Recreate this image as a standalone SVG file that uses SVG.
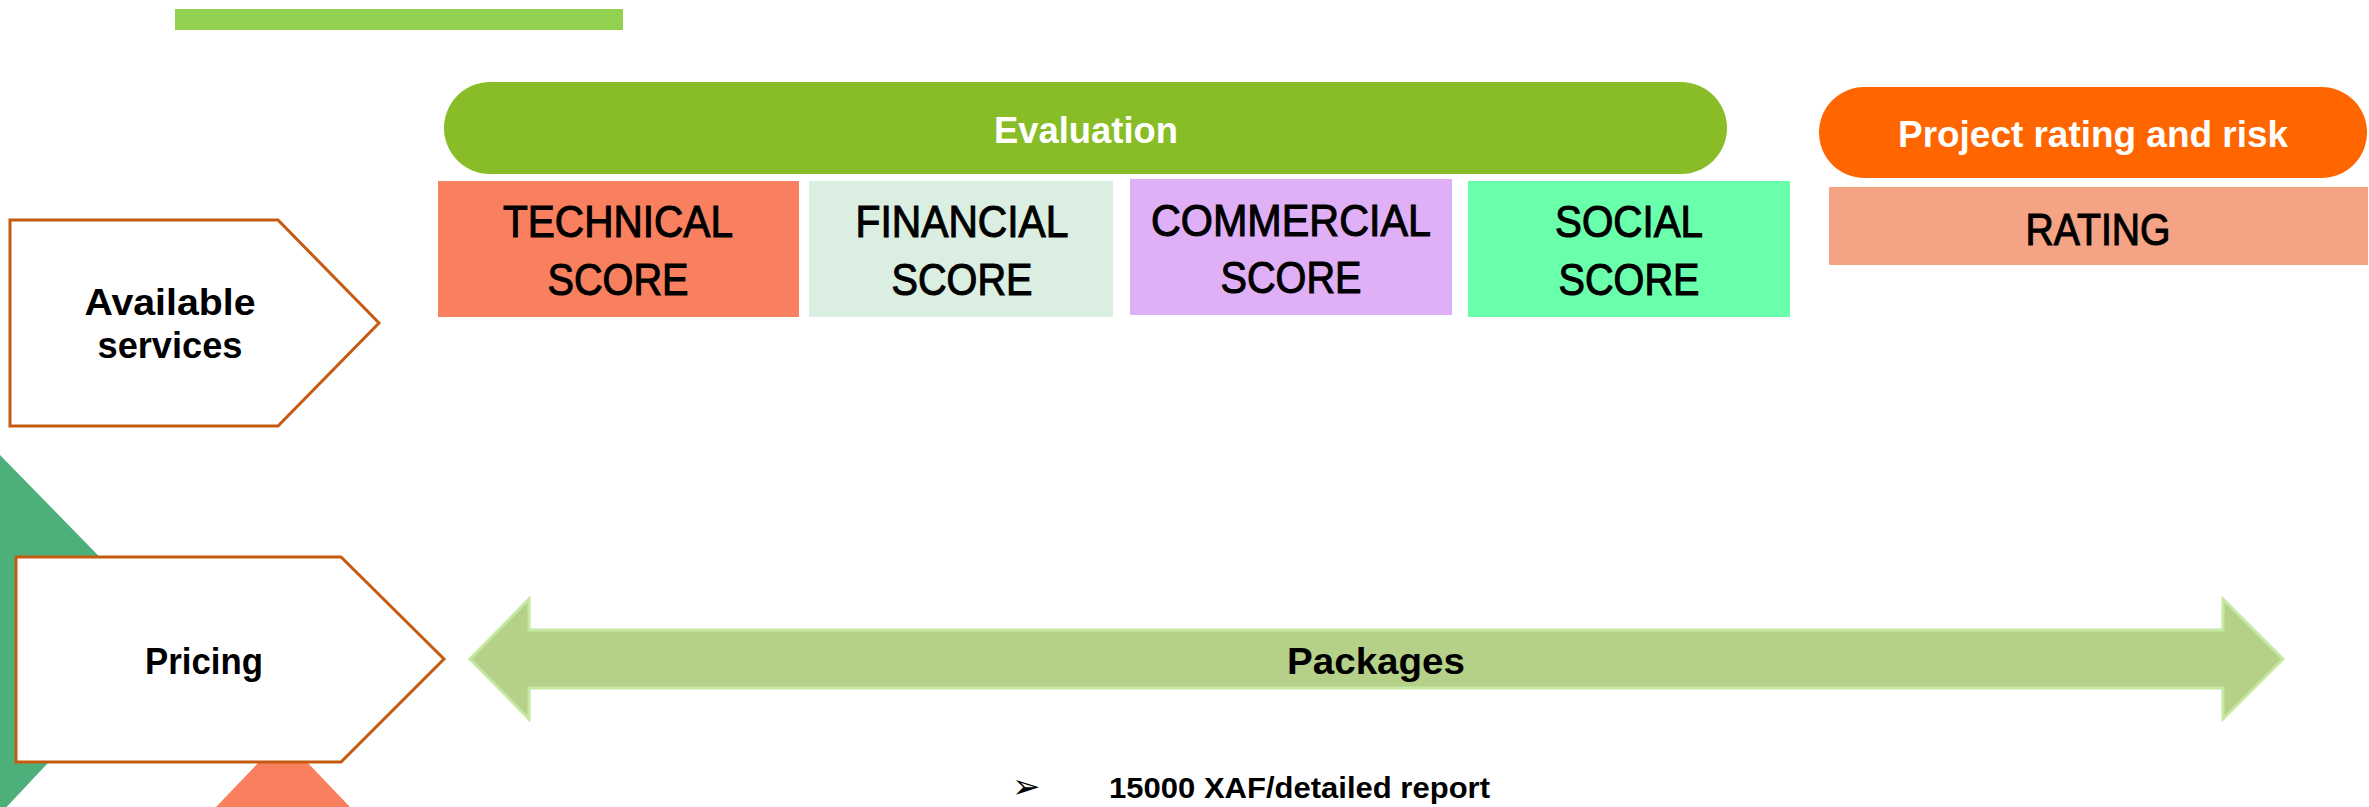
<svg xmlns="http://www.w3.org/2000/svg" width="2369" height="807" viewBox="0 0 2369 807">
<style>
.lbl{font-family:"Liberation Sans",Arial,sans-serif;font-weight:bold;text-anchor:middle}
.wt{fill:#FFFFFF;font-size:36px}
.bk{fill:#000000;font-size:37px}
.sc{font-family:"Liberation Sans",Arial,sans-serif;font-size:45px;fill:#000000;stroke:#000000;stroke-width:1.1px;text-anchor:middle}
.pent{fill:#FFFFFF;stroke:#C55A11;stroke-width:3}
</style>
<rect width="2369" height="807" fill="#FFFFFF"/>
<g id="decor">
<rect x="175" y="9" width="448" height="21" fill="#92D050"/>
<polygon points="0,455 172,631 0,814" fill="#4DB07A"/>
<polygon points="216,807 283,737 350,807" fill="#F97F5E"/>
</g>
<g id="evaluation">
<rect x="444" y="82" width="1283" height="92" rx="46" ry="46" fill="#88BD27"/>
<text class="lbl wt" x="1086" y="143" textLength="184" lengthAdjust="spacingAndGlyphs">Evaluation</text>
</g>
<g id="project-rating">
<rect x="1819" y="87" width="548" height="91" rx="45.5" ry="45.5" fill="#FF6600"/>
<text class="lbl wt" x="2093" y="147" font-size="37" textLength="390" lengthAdjust="spacingAndGlyphs">Project rating and risk</text>
</g>
<g id="technical">
<rect x="438" y="181" width="361" height="136" fill="#F9805F"/>
<text class="sc" x="618" y="237" textLength="230" lengthAdjust="spacingAndGlyphs">TECHNICAL</text>
<text class="sc" x="618" y="295" textLength="141" lengthAdjust="spacingAndGlyphs">SCORE</text>
</g>
<g id="financial">
<rect x="809" y="181" width="304" height="136" fill="#DAEEE1"/>
<text class="sc" x="962" y="237" textLength="213" lengthAdjust="spacingAndGlyphs">FINANCIAL</text>
<text class="sc" x="962" y="295" textLength="141" lengthAdjust="spacingAndGlyphs">SCORE</text>
</g>
<g id="commercial">
<rect x="1130" y="179" width="322" height="136" fill="#E0B0F7"/>
<text class="sc" x="1291" y="236" textLength="280" lengthAdjust="spacingAndGlyphs">COMMERCIAL</text>
<text class="sc" x="1291" y="293" textLength="141" lengthAdjust="spacingAndGlyphs">SCORE</text>
</g>
<g id="social">
<rect x="1468" y="181" width="322" height="136" fill="#6AFFAB"/>
<text class="sc" x="1629" y="237" textLength="148" lengthAdjust="spacingAndGlyphs">SOCIAL</text>
<text class="sc" x="1629" y="295" textLength="141" lengthAdjust="spacingAndGlyphs">SCORE</text>
</g>
<g id="rating">
<rect x="1829" y="187" width="539" height="78" fill="#F4A384"/>
<text class="sc" x="2098" y="245" textLength="145" lengthAdjust="spacingAndGlyphs">RATING</text>
</g>
<g id="available-services">
<polygon class="pent" points="10,220 278,220 379,323 278,426 10,426"/>
<text class="lbl bk" x="170" y="315" textLength="171" lengthAdjust="spacingAndGlyphs">Available</text>
<text class="lbl bk" x="170" y="358" textLength="145" lengthAdjust="spacingAndGlyphs">services</text>
</g>
<g id="pricing">
<polygon class="pent" points="16,557 341,557 444,659 341,762 16,762"/>
<text class="lbl bk" x="204" y="674" font-size="36" textLength="118" lengthAdjust="spacingAndGlyphs">Pricing</text>
</g>
<g id="packages">
<polygon points="470,659 529,599 529,630 2223,630 2223,599 2283,659 2223,719 2223,688 529,688 529,719" fill="#B5D089" stroke="#C6E8A2" stroke-width="3"/>
<text class="lbl bk" x="1376" y="674" font-size="36" textLength="178" lengthAdjust="spacingAndGlyphs">Packages</text>
</g>
<g id="price-note">
<text x="1012" y="798" font-family="'DejaVu Sans',sans-serif" font-size="34" fill="#000000">➢</text>
<text x="1109" y="798" font-family="'Liberation Sans',Arial,sans-serif" font-weight="bold" font-size="29" fill="#000000" textLength="381" lengthAdjust="spacingAndGlyphs">15000 XAF/detailed report</text>
</g>
<g id="connectors"></g>
</svg>
